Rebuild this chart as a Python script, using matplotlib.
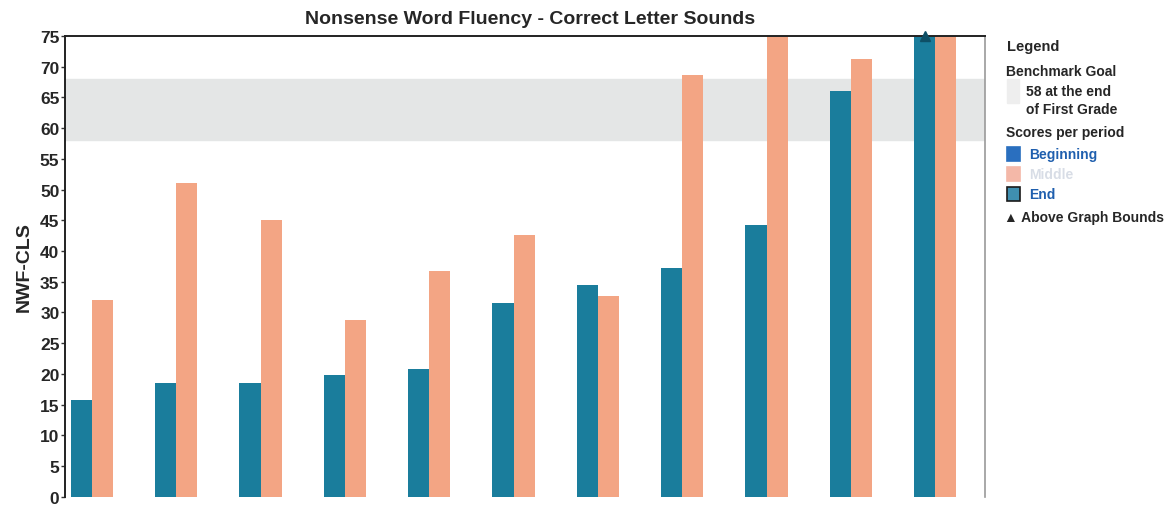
import numpy as np
import matplotlib
matplotlib.use("Agg")
import matplotlib.pyplot as plt
from matplotlib.patches import Rectangle

plt.rcParams['font.family'] = ['Liberation Sans', 'DejaVu Sans']

periods = np.arange(11)
beginning_scores = [15.8, 18.5, 18.5, 19.8, 20.8, 31.5, 34.5, 37.2, 44.3, 66.0, 76.0]
middle_scores = [32.0, 51.0, 45.0, 28.8, 36.7, 42.6, 32.7, 68.6, 75.0, 71.2, 75.0]
goal_low, goal_high = 58, 68
y_ticks = list(range(0, 80, 5))

teal = '#1a7d9c'
orange = '#f3a584'
band_gray = '#e4e6e6'

fig = plt.figure(figsize=(11.66, 5.06), dpi=100)
ax = fig.add_axes([0.0557, 0.0165, 0.789, 0.9105])

# benchmark goal band
ax.axhspan(goal_low, goal_high, color=band_gray, zorder=0)

width = 0.25
ax.bar(periods - width / 2, beginning_scores, width, color=teal, zorder=2)
ax.bar(periods + width / 2, middle_scores, width, color=orange, zorder=2)

# triangles for scores above the graph bounds
for x, v in zip(periods, beginning_scores):
    if v > 75:
        ax.plot(x - width / 2, 75, marker='^', color='#0e4f66', markersize=7,
                clip_on=False, zorder=3)

ax.set_xlim(-0.32, 10.59)
ax.set_ylim(0, 75)
ax.set_yticks(y_ticks)
ax.set_yticklabels([str(t) for t in y_ticks], fontsize=12.5, fontweight='bold',
                   color='#262626')
ax.set_xticks([])
ax.tick_params(axis='y', length=3, width=1, pad=1, color='#333333')
ax.set_ylabel('NWF-CLS', fontsize=14, fontweight='bold', color='#262626',
              labelpad=5)

ax.spines['bottom'].set_visible(False)
ax.spines['left'].set_color('#222222')
ax.spines['left'].set_linewidth(1.4)
ax.spines['top'].set_color('#222222')
ax.spines['top'].set_linewidth(1.4)
ax.spines['right'].set_color('#9a9a9a')
ax.spines['right'].set_linewidth(1.2)

fig.text(0.455, 0.962, 'Nonsense Word Fluency - Correct Letter Sounds',
         ha='center', va='center', fontsize=14, fontweight='bold',
         color='#262626')

# legend drawn as figure text
W, H = 1166, 506
def fx(px):
    return px / W
def fy(py):
    return 1 - py / H

txt = dict(fontsize=10, fontweight='bold', va='center', ha='left')
fig.text(fx(1007), fy(47), 'Legend', color='#262626', fontsize=10.5,
         fontweight='bold', va='center')
fig.text(fx(1006), fy(72), 'Benchmark Goal', color='#262626', **txt)
fig.patches.append(Rectangle((fx(1007), fy(104)), fx(12), 24 / H,
                             transform=fig.transFigure, color='#eeeeee'))
fig.text(fx(1026), fy(92), '58 at the end', color='#262626', **txt)
fig.text(fx(1026), fy(110), 'of First Grade', color='#262626', **txt)
fig.text(fx(1006), fy(133), 'Scores per period', color='#262626', **txt)

legend_items = [
    ('Beginning', 155, '#2a6fbf', '#2a6fbf', '#1f5fae'),
    ('Middle', 175, '#f4b8a8', '#f4b8a8', '#d8dde6'),
    ('End', 195, '#3f8fb0', '#1a1a1a', '#1f5fae'),
]
for label, py, face, edge, tcolor in legend_items:
    fig.patches.append(Rectangle((fx(1007), fy(py + 7)), fx(13), 14 / H,
                                 transform=fig.transFigure, facecolor=face,
                                 edgecolor=edge, linewidth=1.2))
    fig.text(fx(1029), fy(py), label, color=tcolor, **txt)

fig.text(fx(1004), fy(218), '\u25b2 Above Graph Bounds', color='#262626', **txt)

fig.savefig('out.png', dpi=100)
